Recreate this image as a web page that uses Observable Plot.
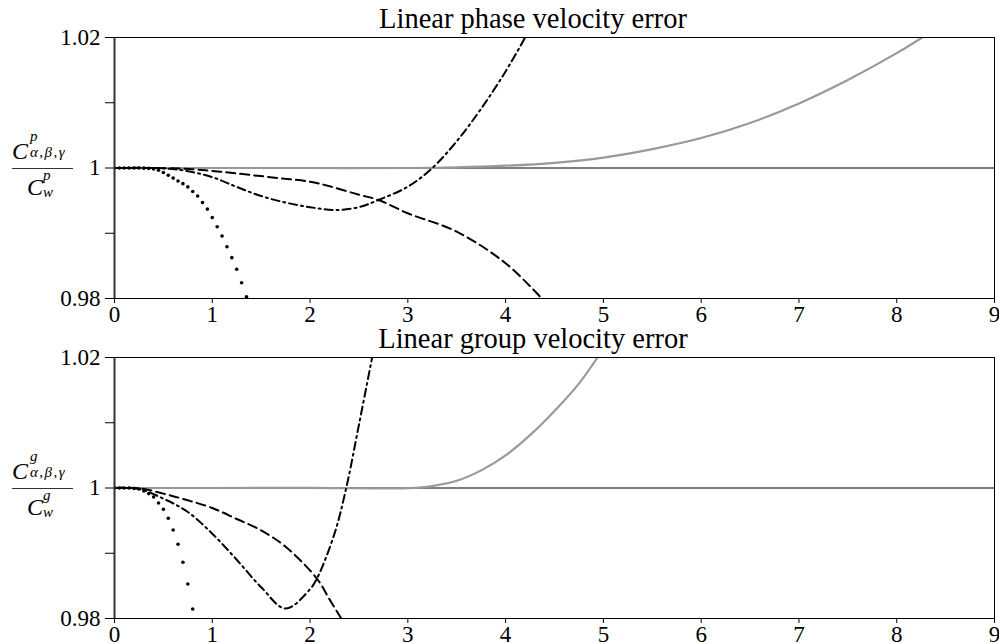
<!DOCTYPE html>
<html>
<head>
<meta charset="utf-8">
<script src="https://cdn.jsdelivr.net/npm/d3@7"></script>
<script src="https://cdn.jsdelivr.net/npm/@observablehq/plot@0.6"></script>
<style>
  html, body { margin: 0; padding: 0; background: white; }
  #chart svg { display: block; overflow: visible; }
  #chart svg, #chart svg text, #chart svg g {
    font-family: "Liberation Serif", "Times New Roman", "DejaVu Serif", serif !important;
  }
</style>
</head>
<body>
<div id="chart"></div>
<script>
// ---- axes ----
const xTicks = [0, 1, 2, 3, 4, 5, 6, 7, 8, 9];
const yTicks = [0.98, 0.99, 1, 1.01, 1.02];
const yTickLabels = ["0.98", "", "1", "", "1.02"];
const titles = ["Linear phase velocity error", "Linear group velocity error"];
const superscripts = ["p", "g"];
const exactValue = 1;

// ---- phase velocity panel ----
const phaseGrayX = [0, 1, 2, 3, 3.5, 4, 4.5, 5, 5.5, 6, 6.5, 7, 7.5, 8, 8.26];
const phaseGrayY = [1, 1, 1, 1, 1.0001, 1.00035, 1.0008, 1.0016, 1.0029, 1.0046, 1.0069, 1.0099, 1.0135, 1.0176, 1.02];

const phaseDashX = [0, 0.5, 0.8, 1.08, 1.39, 1.7, 2, 2.2, 2.5, 2.7, 3, 3.5, 4, 4.37];
const phaseDashY = [1, 0.99998, 0.9998, 0.99943, 0.99893, 0.99842, 0.9979, 0.9972, 0.9959, 0.9951, 0.99306, 0.99024, 0.9854, 0.98];

const phaseDashDotX = [0, 0.5, 0.75, 1, 1.25, 1.5, 1.75, 2, 2.25, 2.5, 2.7, 3, 3.25, 3.5, 3.75, 4, 4.2];
const phaseDashDotY = [1, 0.99995, 0.9995, 0.9986, 0.9971, 0.9957, 0.9947, 0.994, 0.99356, 0.994, 0.9951, 0.99714, 1.0, 1.0041, 1.0091, 1.0148, 1.02];

const phaseDotX = [0, 0.05, 0.1, 0.15, 0.2, 0.25, 0.3, 0.35, 0.4, 0.45, 0.5, 0.55, 0.6, 0.65, 0.7, 0.75, 0.8, 0.85, 0.9, 0.95, 1.0, 1.05, 1.1, 1.15, 1.2, 1.25, 1.3, 1.35];
const phaseDotY = [1, 1, 1, 1, 1, 1, 0.99998, 0.99994, 0.99985, 0.99965, 0.9993, 0.9989, 0.99845, 0.998, 0.9976, 0.9971, 0.9964, 0.9957, 0.9947, 0.9937, 0.9924, 0.991, 0.98958, 0.98794, 0.98626, 0.98448, 0.98242, 0.98027];

// ---- group velocity panel ----
const groupGrayX = [0, 0.5, 1, 1.5, 2, 2.5, 3, 3.25, 3.5, 3.75, 4, 4.25, 4.5, 4.75, 4.94];
const groupGrayY = [1, 1, 1, 1.00002, 1.00002, 0.99996, 0.99998, 1.0003, 1.0011, 1.0027, 1.005, 1.0081, 1.0118, 1.016, 1.02];

const groupDashX = [0, 0.25, 0.5, 0.75, 1, 1.25, 1.5, 1.75, 2.07, 2.2, 2.32];
const groupDashY = [1, 0.99995, 0.99914, 0.99811, 0.99693, 0.99525, 0.9935, 0.991, 0.98611, 0.9829, 0.98];

const groupDashDotX = [0, 0.25, 0.5, 0.75, 1, 1.25, 1.5, 1.75, 2, 2.07, 2.25, 2.37, 2.5, 2.635];
const groupDashDotY = [1, 0.99985, 0.99837, 0.99632, 0.993, 0.989, 0.9848, 0.98152, 0.9845, 0.98611, 0.993, 1.0, 1.0097, 1.02];

const groupDotX = [0, 0.05, 0.1, 0.15, 0.2, 0.25, 0.3, 0.35, 0.4, 0.45, 0.5, 0.55, 0.6, 0.65, 0.7, 0.75, 0.8];
const groupDotY = [1, 1, 1, 1, 0.99995, 0.99985, 0.99954, 0.99914, 0.99862, 0.9977, 0.99673, 0.99536, 0.99356, 0.99137, 0.98861, 0.98529, 0.98146];

const panels = [
  {gray: [phaseGrayX, phaseGrayY], dash: [phaseDashX, phaseDashY], dashdot: [phaseDashDotX, phaseDashDotY], dot: [phaseDotX, phaseDotY]},
  {gray: [groupGrayX, groupGrayY], dash: [groupDashX, groupDashY], dashdot: [groupDashDotX, groupDashDotY], dot: [groupDotX, groupDotY]}
];

const table = ([xs, ys]) => xs.map((x, i) => ({x, y: ys[i]}));

const container = document.getElementById("chart");

panels.forEach((p, k) => {
  const bottom = k === 0 ? 22 : 26;
  const svg = Plot.plot({
    width: 999,
    height: 298 + bottom,
    marginLeft: 114,
    marginRight: 5,
    marginTop: 37,
    marginBottom: bottom,
    style: {fontSize: "23px", background: "white", color: "black", overflow: "visible"},
    x: {domain: [0, 9]},
    y: {domain: [0.98, 1.02]},
    marks: [
      Plot.ruleY([exactValue], {stroke: "#555", strokeWidth: 1.4}),
      Plot.line(table(p.gray), {x: "x", y: "y", stroke: "#999", strokeWidth: 2.2, curve: "catmull-rom", clip: true}),
      Plot.line(table(p.dash), {x: "x", y: "y", stroke: "black", strokeWidth: 2, strokeDasharray: "9,5", curve: "catmull-rom", clip: true}),
      Plot.line(table(p.dashdot), {x: "x", y: "y", stroke: "black", strokeWidth: 2, strokeDasharray: "8,4,2,4", curve: "catmull-rom", clip: true}),
      Plot.dot(table(p.dot), {x: "x", y: "y", r: 1.8, fill: "black", stroke: "none", clip: true}),
      Plot.frame({stroke: "black", strokeWidth: 1}),
      Plot.ruleX([0], {stroke: "#333", strokeWidth: 2}),
      Plot.axisX({ticks: xTicks, tickSize: 5, tickPadding: 2, label: null, fontSize: 23}),
      Plot.axisY({
        ticks: yTicks, tickSize: 9, tickPadding: 5, label: null, fontSize: 23,
        tickFormat: d => yTickLabels[yTicks.findIndex(t => Math.abs(t - d) < 1e-9)] ?? ""
      })
    ]
  });

  const s = d3.select(svg);
  // title
  s.append("text")
    .attr("x", 533).attr("y", 28)
    .attr("text-anchor", "middle")
    .attr("font-size", 28.5)
    .attr("fill", "black")
    .text(titles[k]);

  // y label: fraction C^sup_{α,β,γ} / C^sup_w
  const g = s.append("g").attr("fill", "black").attr("font-style", "italic").attr("text-anchor", "start");
  g.append("text").attr("x", 12).attr("y", 159).attr("font-size", 24).text("C");
  g.append("text").attr("x", 30).attr("y", 141).attr("font-size", 15).text(superscripts[k]);
  g.append("text").attr("x", 30).attr("y", 157).attr("font-size", 15).attr("letter-spacing", 1.5).text("α,β,γ");
  g.append("line").attr("x1", 12).attr("x2", 73).attr("y1", 168.5).attr("y2", 168.5)
    .attr("stroke", "#333").attr("stroke-width", 1.1);
  g.append("text").attr("x", 27).attr("y", 195).attr("font-size", 24).text("C");
  g.append("text").attr("x", 43).attr("y", 180).attr("font-size", 15).text(superscripts[k]);
  g.append("text").attr("x", 43).attr("y", 197).attr("font-size", 15).text("w");

  container.appendChild(svg);
});
</script>
</body>
</html>
